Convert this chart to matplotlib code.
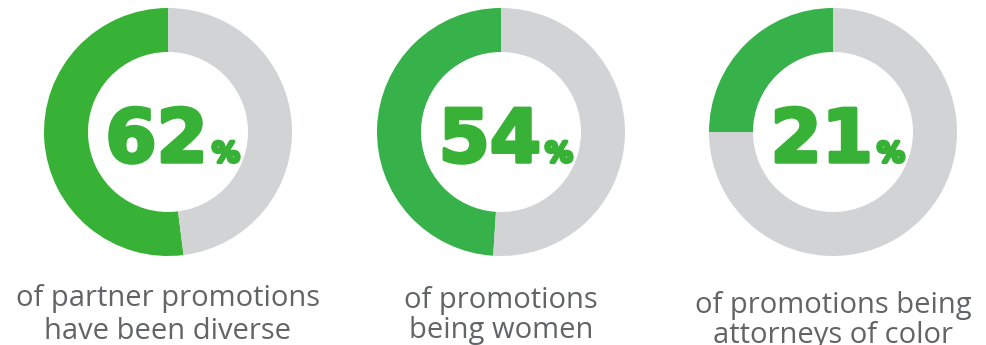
import matplotlib
matplotlib.use("Agg")
import matplotlib.pyplot as plt
import matplotlib.patheffects as pe

# headline numbers printed in the rings
stat_values = [62, 54, 21]
# share of each ring drawn green (as it appears in the graphic)
ring_share = [52, 49, 25]
captions = [
    ["of partner promotions", "have been diverse"],
    ["of promotions", "being women"],
    ["of promotions being", "attorneys of color"],
]

ring_greens = ["#38B236", "#37B24A", "#37B24A"]
number_green = "#38B236"
ring_gray = "#D1D3D4"
caption_color = "#636466"

# layout in pixel units (y measured up from the bottom)
centers_x = [168, 501, 833]
center_y = 213
outer_r = 124
ring_w = 44
caption_top = [39, 37, 32]
line_gap = [33, 30, 30]

fig = plt.figure(figsize=(9.87, 3.45), dpi=100)
ax = fig.add_axes([0, 0, 1, 1])

heavy = [pe.withStroke(linewidth=2.5, foreground=number_green)]

for i, cx in enumerate(centers_x):
    share = ring_share[i]
    ax.pie([share, 100 - share], colors=[ring_greens[i], ring_gray],
           startangle=90, counterclock=True, center=(cx, center_y),
           radius=outer_r, wedgeprops=dict(width=ring_w, linewidth=0),
           frame=True)

    ax.text(cx + 40, center_y - 30, str(stat_values[i]), ha="right", va="baseline",
            fontsize=53, fontweight="bold", color=number_green,
            family="DejaVu Sans", path_effects=heavy)
    ax.text(cx + 44, center_y - 30, "%", ha="left", va="baseline",
            fontsize=20, fontweight="bold", color=number_green,
            family="DejaVu Sans", path_effects=heavy)

    for j, line in enumerate(captions[i]):
        ax.text(cx, caption_top[i] - j * line_gap[i], line, ha="center", va="baseline",
                fontsize=21, color=caption_color, family="Open Sans")

ax.set_xlim(0, 987)
ax.set_ylim(0, 345)
ax.set_aspect("equal")
ax.axis("off")

fig.savefig("out.png", dpi=100)
